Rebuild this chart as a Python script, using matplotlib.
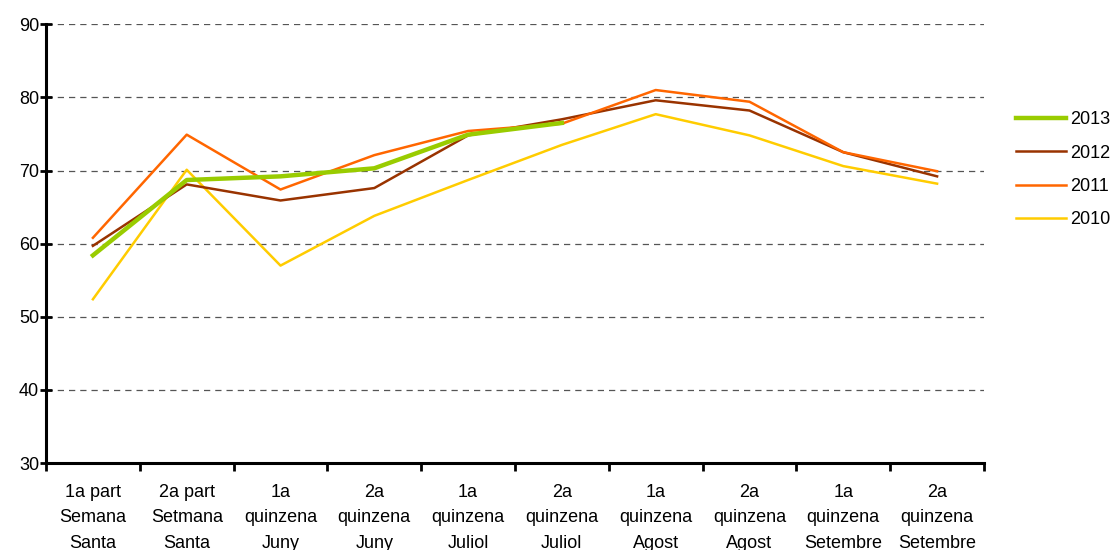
import numpy as np
import matplotlib.pyplot as plt

plt.rcParams['font.family'] = ['Liberation Sans', 'DejaVu Sans']

# periods of the season
periods = ["1a part\nSemana\nSanta", "2a part\nSetmana\nSanta",
           "1a\nquinzena\nJuny", "2a\nquinzena\nJuny",
           "1a\nquinzena\nJuliol", "2a\nquinzena\nJuliol",
           "1a\nquinzena\nAgost", "2a\nquinzena\nAgost",
           "1a\nquinzena\nSetembre", "2a\nquinzena\nSetembre"]

# occupancy per year (2013 only up to July)
y2013 = [58.4, 68.7, 69.2, 70.3, 74.9, 76.5]
y2012 = [59.7, 68.1, 65.9, 67.6, 74.8, 77.0, 79.6, 78.2, 72.5, 69.2]
y2011 = [60.8, 74.9, 67.4, 72.1, 75.4, 76.4, 81.0, 79.4, 72.5, 69.9]
y2010 = [52.4, 70.1, 57.0, 63.8, 68.7, 73.5, 77.7, 74.8, 70.6, 68.2]

fig = plt.figure(figsize=(11.14, 5.5), dpi=100)
ax = fig.add_axes([0.0413, 0.158, 0.842, 0.798])

x = np.arange(len(periods))
ax.plot(x[:len(y2013)], y2013, color='#99CC00', lw=3.2, label='2013', zorder=4)
ax.plot(x, y2012, color='#993300', lw=1.8, label='2012', zorder=3)
ax.plot(x, y2011, color='#FF6600', lw=1.8, label='2011', zorder=3)
ax.plot(x, y2010, color='#FFCC00', lw=1.8, label='2010', zorder=2)

ax.set_xlim(-0.5, len(periods) - 0.5)
ax.set_ylim(30, 90)
ax.set_yticks(range(30, 91, 10))
ax.yaxis.grid(True, linestyle=(0, (5, 4)), color='#555555', lw=0.9)
ax.set_axisbelow(True)

# category boundaries get the tick marks, centres get the labels
ax.set_xticks(np.arange(-0.5, len(periods), 1.0))
ax.set_xticklabels([])
ax.set_xticks(x, minor=True)
ax.set_xticklabels(periods, minor=True, fontsize=13, linespacing=1.65, va='top')
ax.tick_params(axis='x', which='major', direction='out', length=6, width=2)
ax.tick_params(axis='x', which='minor', length=0, pad=15)
ax.tick_params(axis='y', direction='inout', length=8, width=2, labelsize=13, pad=1)

for s in ['top', 'right']:
    ax.spines[s].set_visible(False)
for s in ['left', 'bottom']:
    ax.spines[s].set_linewidth(2.2)

fig.legend(loc='upper left', bbox_to_anchor=(0.897, 0.827), frameon=False,
           fontsize=13, handlelength=2.8, handletextpad=0.25, labelspacing=0.9)

fig.savefig('out.png', dpi=100)
